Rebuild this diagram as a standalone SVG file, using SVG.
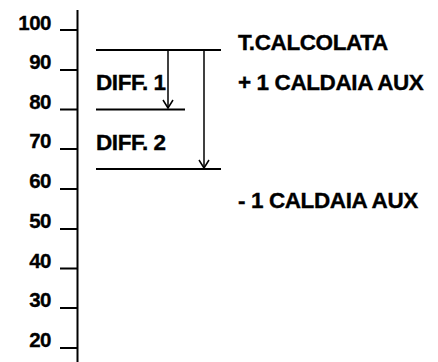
<svg xmlns="http://www.w3.org/2000/svg" width="438" height="362" viewBox="0 0 438 362">
<style>
.lbl{font-family:"Liberation Sans",Arial,sans-serif;font-weight:bold;font-size:20.5px;letter-spacing:-0.5px;fill:#000;stroke:#000;stroke-width:0.35px}
.txt{font-family:"Liberation Sans",Arial,sans-serif;font-weight:bold;font-size:22.5px;letter-spacing:-0.4px;fill:#000;stroke:#000;stroke-width:0.35px}
.ax{stroke:#000;stroke-width:2;fill:none}
.ln{stroke:#000;stroke-width:2;fill:none}
.arr{stroke:#000;stroke-width:1.5;fill:none}
</style>
<rect width="438" height="362" fill="#fff"/>
<g id="axis">
<line class="ax" x1="77.5" y1="10" x2="77.5" y2="362"/>
<path class="ax" d="M60 30H78M60 70H78M60 109.5H78M60 149H78M60 189H78M60 229H78M60 268.5H78M60 308H78M60 348H78"/>
<text class="lbl" text-anchor="end" x="51" y="29.5">100</text>
<text class="lbl" text-anchor="end" x="51" y="69">90</text>
<text class="lbl" text-anchor="end" x="51" y="108.5">80</text>
<text class="lbl" text-anchor="end" x="51" y="148">70</text>
<text class="lbl" text-anchor="end" x="51" y="188">60</text>
<text class="lbl" text-anchor="end" x="51" y="228">50</text>
<text class="lbl" text-anchor="end" x="51" y="267.5">40</text>
<text class="lbl" text-anchor="end" x="51" y="307">30</text>
<text class="lbl" text-anchor="end" x="51" y="347">20</text>
</g>
<g id="levels">
<line class="ln" x1="96" y1="50" x2="221" y2="50"/>
<line class="ln" x1="96" y1="109.5" x2="185" y2="109.5"/>
<line class="ln" x1="96" y1="169" x2="221" y2="169"/>
</g>
<g id="connectors">
<line class="arr" x1="168" y1="50" x2="168" y2="108"/>
<path class="arr" d="M163 100L168 108L173 100"/>
<line class="arr" x1="204" y1="50" x2="204" y2="168"/>
<path class="arr" d="M199 160L204 168L209 160"/>
</g>
<g id="labels">
<text class="txt" x="96" y="89.5">DIFF. 1</text>
<text class="txt" x="96" y="150">DIFF. 2</text>
<text class="txt" x="238" y="50">T.CALCOLATA</text>
<text class="txt" x="238" y="90">+ 1 CALDAIA AUX</text>
<text class="txt" x="238" y="208">- 1 CALDAIA AUX</text>
</g>
</svg>
